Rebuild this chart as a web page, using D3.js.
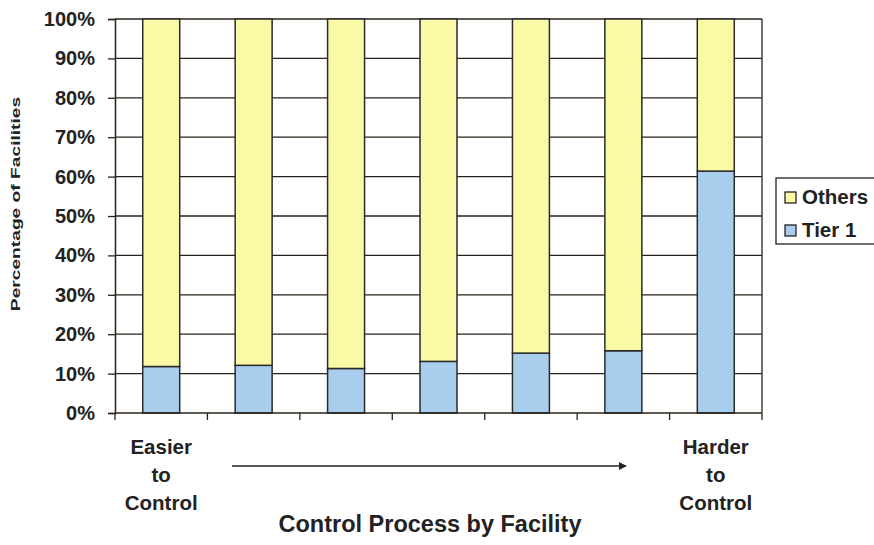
<!DOCTYPE html>
<meta charset="utf-8">
<style>
body { margin: 0; background: #fff; }
text { font-family: Arial, "Liberation Sans", sans-serif; font-weight: bold; fill: #222; }
.grid line { stroke: #2a2218; stroke-width: 1.3; }
.bar { stroke: #2a2a2a; stroke-width: 1.5; }
</style>
<svg width="874" height="545"></svg>
<script src="https://d3js.org/d3.v7.min.js"></script>
<script>

var facilities = ["F1", "F2", "F3", "F4", "F5", "F6", "F7"];
var tier1 = [11.8, 12.1, 11.3, 13.1, 15.2, 15.8, 61.4];
var others = tier1.map(function(d) { return 100 - d; });
var yTicks = [0, 10, 20, 30, 40, 50, 60, 70, 80, 90, 100];
var seriesNames = ["Others", "Tier 1"];
var colors = {"Tier 1": "#a9cdec", "Others": "#fafaa6"};

var svg = d3.select("svg");
var plotLeft = 115, plotRight = 762, plotTop = 19, plotBottom = 413;

var x = d3.scaleBand()
    .domain(facilities)
    .range([plotLeft, plotRight])
    .paddingInner(0.6)
    .paddingOuter(0.3);

var xTickPos = d3.scalePoint()
    .domain(d3.range(facilities.length + 1))
    .range([plotLeft, plotRight]);

var y = d3.scaleLinear()
    .domain([0, 100])
    .range([plotBottom, plotTop]);

// gridlines
svg.append("g")
    .attr("class", "grid")
  .selectAll("line")
  .data(yTicks.filter(function(d) { return d > 0; }))
  .enter().append("line")
    .attr("x1", plotLeft)
    .attr("x2", plotRight)
    .attr("y1", function(d) { return y(d); })
    .attr("y2", function(d) { return y(d); });

// right border
svg.append("line")
    .attr("x1", plotRight).attr("x2", plotRight)
    .attr("y1", plotTop).attr("y2", plotBottom)
    .attr("stroke", "#2a2218").attr("stroke-width", 1.3);

// bars
var rows = facilities.map(function(f, i) { return {f: f, tier1: tier1[i], others: others[i]}; });

svg.selectAll(".bar.t1")
  .data(rows)
  .enter().append("rect")
    .attr("class", "bar t1")
    .attr("x", function(d) { return x(d.f); })
    .attr("width", x.bandwidth())
    .attr("y", function(d) { return y(d.tier1); })
    .attr("height", function(d) { return y(0) - y(d.tier1); })
    .attr("fill", colors["Tier 1"]);

svg.selectAll(".bar.oth")
  .data(rows)
  .enter().append("rect")
    .attr("class", "bar oth")
    .attr("x", function(d) { return x(d.f); })
    .attr("width", x.bandwidth())
    .attr("y", function(d) { return y(d.tier1 + d.others); })
    .attr("height", function(d) { return y(d.tier1) - y(d.tier1 + d.others); })
    .attr("fill", colors["Others"]);

// y axis
var yAxis = svg.append("g")
    .attr("transform", "translate(" + plotLeft + ",0)")
    .call(d3.axisLeft(y).tickValues(yTicks).tickFormat(function(d) { return d + "%"; }).tickSize(7).tickPadding(13));
yAxis.select(".domain").attr("stroke", "#2a2218").attr("stroke-width", 1.5);
yAxis.selectAll(".tick line").attr("stroke", "#2a2218").attr("stroke-width", 1.3);
yAxis.selectAll("text").style("font-size", "20px").attr("fill", "#222").attr("font-family", null);

// x axis line + ticks
svg.append("line")
    .attr("x1", plotLeft).attr("x2", plotRight)
    .attr("y1", plotBottom).attr("y2", plotBottom)
    .attr("stroke", "#2a2218").attr("stroke-width", 1.5);
svg.selectAll(".xtick")
  .data(xTickPos.domain())
  .enter().append("line")
    .attr("class", "xtick")
    .attr("x1", function(d) { return xTickPos(d); })
    .attr("x2", function(d) { return xTickPos(d); })
    .attr("y1", plotBottom).attr("y2", plotBottom + 7)
    .attr("stroke", "#2a2218").attr("stroke-width", 1.3);

// end labels
var endLabels = [
  {f: facilities[0], lines: ["Easier", "to", "Control"]},
  {f: facilities[facilities.length - 1], lines: ["Harder", "to", "Control"]}
];
endLabels.forEach(function(l) {
  var t = svg.append("text")
      .attr("text-anchor", "middle")
      .style("font-size", "20.5px");
  l.lines.forEach(function(s, i) {
    t.append("tspan")
        .attr("x", x(l.f) + x.bandwidth() / 2)
        .attr("y", 454 + i * 28)
        .text(s);
  });
});

// arrow
svg.append("defs").append("marker")
    .attr("id", "arrow")
    .attr("viewBox", "0 0 10 10")
    .attr("refX", 9).attr("refY", 5)
    .attr("markerWidth", 8).attr("markerHeight", 6)
    .attr("orient", "auto")
  .append("path")
    .attr("d", "M0,0L10,5L0,10z")
    .attr("fill", "#222");
svg.append("line")
    .attr("x1", 232).attr("x2", 626)
    .attr("y1", 466).attr("y2", 466)
    .attr("stroke", "#222").attr("stroke-width", 1.3)
    .attr("marker-end", "url(#arrow)");

// axis titles
svg.append("text")
    .attr("x", 430).attr("y", 532)
    .attr("text-anchor", "middle")
    .style("font-size", "23.5px")
    .text("Control Process by Facility");

svg.append("text")
    .attr("transform", "translate(20,204) rotate(-90) scale(1.6,1)")
    .attr("text-anchor", "middle")
    .style("font-size", "12px")
    .text("Percentage of Facilities");

// legend
var legend = svg.append("g").attr("transform", "translate(776,178)");
legend.append("rect")
    .attr("width", 110).attr("height", 66)
    .attr("fill", "#fff").attr("stroke", "#222").attr("stroke-width", 1.3);
var li = legend.selectAll(".li")
  .data(seriesNames)
  .enter().append("g")
    .attr("class", "li")
    .attr("transform", function(d, i) { return "translate(9," + (19 + i * 33) + ")"; });
li.append("rect")
    .attr("x", 0).attr("y", -5)
    .attr("width", 11).attr("height", 11)
    .attr("fill", function(d) { return colors[d]; })
    .attr("stroke", "#222").attr("stroke-width", 1.3);
li.append("text")
    .attr("x", 17).attr("y", 7)
    .style("font-size", "20.5px")
    .text(function(d) { return d; });

</script>
